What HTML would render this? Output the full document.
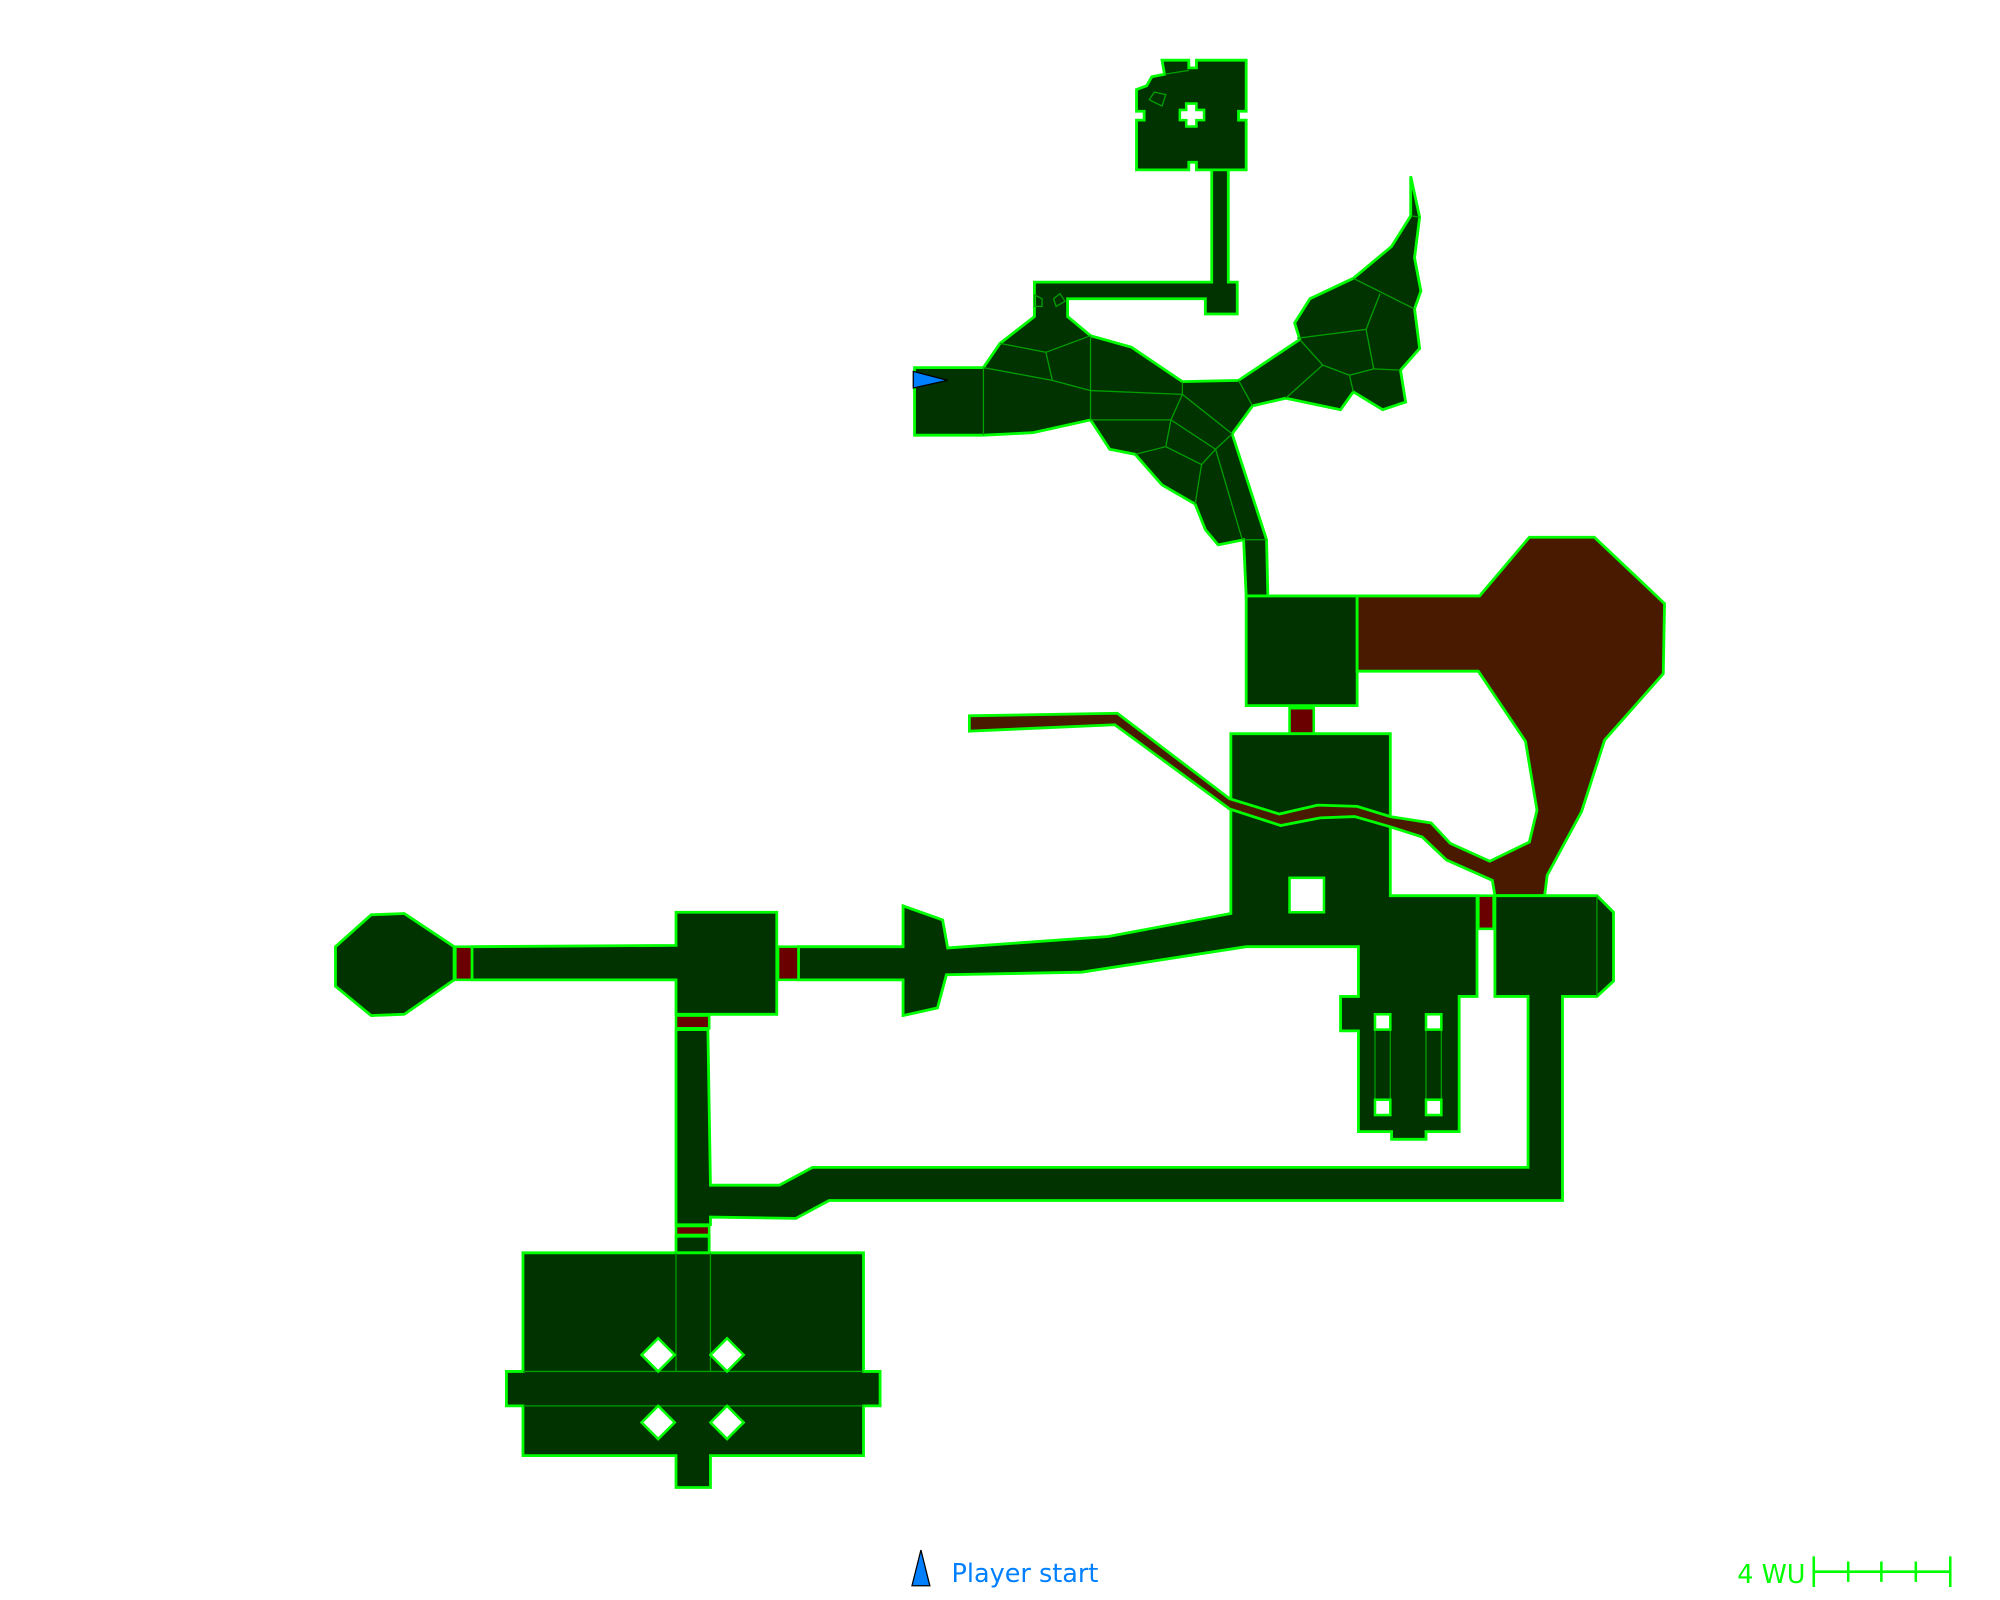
<!DOCTYPE html>
<html><head><meta charset="utf-8"><style>
html,body{margin:0;padding:0;background:#fff;width:2000px;height:1600px;overflow:hidden}
svg{display:block}
.r{fill:#003300;stroke:#00ff00;stroke-width:2.2;stroke-linejoin:miter}
.b{fill:#4a1a00;stroke:#00ff00;stroke-width:2.2}
.d{fill:#6b0000;stroke:#00ff00;stroke-width:2}
.h{fill:#fff;stroke:#00ff00;stroke-width:2}
.l{stroke:#00a000;stroke-width:1;fill:none}
</style></head><body>
<svg width="2000" height="1600" viewBox="0 0 1568 1254" xmlns="http://www.w3.org/2000/svg">
<polygon class="r" points="911,47 932,47 932,53 938,53 938,47 977,47 977,87 971,87 971,94 977,94 977,133 938,133 938,127 932,127 932,133 891,133 891,94 897,94 897,87 891,87 891,70 899,67 903,60 913,58"/>
<polygon class="h" points="930,81 938,81 938,86 944,86 944,94 938,94 938,99 930,99 930,94 925,94 925,86 930,86"/>
<polyline class="l" points="913,58 932,55"/>
<polygon class="l" points="901,78 905,72 914,74 911,83"/>
<polygon class="r" points="717,288 771,288 784,269 811,248 811,221 950,221 950,133 963,133 963,221 970,221 970,246 945,246 945,234 837,234 837,248 855,263 887,272 927,299 971,298 1019,266 1015,253 1027,234 1061,218 1091,193 1106,169 1106,138 1113,170 1109,202 1114,228 1109,242 1113,273 1098,290 1102,315 1084,321 1061,307 1051,321 1008,312 982,318 966,340 993,423 994,467 977,467 975,423 955,427 945,415 937,395 911,380 890,356 870,352 855,329 810,339 771,341 717,341"/>
<g class="l">
<line x1="771" y1="288" x2="771" y2="341"/><line x1="784" y1="269" x2="820" y2="276"/><line x1="820" y1="276" x2="855" y2="263"/><line x1="820" y1="276" x2="825" y2="298"/><polyline points="771,288 825,298 855,306 927,309"/><line x1="855" y1="263" x2="855" y2="329"/><line x1="927" y1="299" x2="927" y2="309"/><line x1="855" y1="329" x2="918" y2="329"/><line x1="927" y1="309" x2="918" y2="329"/><line x1="927" y1="309" x2="966" y2="340"/><line x1="918" y1="329" x2="914" y2="350"/><line x1="918" y1="329" x2="953" y2="352"/><line x1="914" y1="350" x2="890" y2="356"/><line x1="914" y1="350" x2="942" y2="364"/><line x1="953" y1="352" x2="966" y2="340"/><line x1="953" y1="352" x2="942" y2="364"/><line x1="942" y1="364" x2="937" y2="395"/><line x1="953" y1="352" x2="974" y2="423"/><line x1="975" y1="423" x2="993" y2="423"/><line x1="1019" y1="266" x2="1037" y2="286"/><line x1="1037" y1="286" x2="1008" y2="312"/><line x1="1037" y1="286" x2="1058" y2="294"/><line x1="1058" y1="294" x2="1061" y2="307"/><line x1="1058" y1="294" x2="1077" y2="289"/><line x1="1077" y1="289" x2="1098" y2="290"/><line x1="1077" y1="289" x2="1071" y2="258"/><line x1="1017" y1="265" x2="1071" y2="258"/><line x1="1071" y1="258" x2="1082" y2="230"/><line x1="1061" y1="218" x2="1109" y2="242"/><line x1="971" y1="298" x2="982" y2="318"/><line x1="1106" y1="169" x2="1113" y2="170"/>
<polygon points="811,231 817,234 817,240 811,240"/><polygon points="826,234 831,230 835,236 828,240"/>
</g>
<polygon class="r" points="977,467 1064,467 1064,553 977,553"/>
<rect class="d" x="1011" y="555" width="19" height="20"/>
<polygon class="r" points="965,575 1090,575 1090,702 1158,702 1158,781 1144,781 1144,887 1118,887 1118,893 1091,893 1091,887 1065,887 1065,808 1051,808 1051,781 1065,781 1065,742 977,742 848,762 742,764 735,790 708,796 708,768 626,768 626,742 708,742 708,710 739,721 743,743 869,734 965,716"/>
<rect class="h" x="1011" y="688" width="27" height="27"/>
<rect class="l" x="1078" y="807" width="12" height="55"/><rect class="l" x="1118" y="807" width="12" height="55"/>
<rect class="h" x="1078" y="795" width="12" height="12"/><rect class="h" x="1118" y="795" width="12" height="12"/>
<rect class="h" x="1078" y="862" width="12" height="12"/><rect class="h" x="1118" y="862" width="12" height="12"/>
<polygon class="b" points="1064,467 1160,467 1199,421 1250,421 1305,473 1304,528 1258,580 1240,636 1213,686 1211,702 1172,702 1170,690 1134,674 1115,656 1090,648 1062,640 1035,641 1004,647 964,634 874,568 760,573 760,561 876,559 964,626 1003,638 1033,631 1064,632 1090,640 1122,645 1137,661 1168,675 1199,660 1205,635 1196,581 1159,526 1064,526"/>
<rect class="d" x="1159" y="702" width="12" height="26"/>
<polygon class="r" points="1172,702 1252,702 1265,715 1265,769 1252,781 1225,781 1225,941 650,941 624,955 557,954 557,960 530,960 530,807 555,807 557,929 611,929 637,915 1198,915 1198,781 1172,781"/>
<line class="l" x1="1252" y1="702" x2="1252" y2="781"/>
<polygon class="r" points="370,742 530,741 530,715 609,715 609,795 530,795 530,768 370,768"/>
<rect class="d" x="610" y="742" width="16" height="26"/>
<rect class="d" x="357" y="742" width="13" height="26"/>
<polygon class="r" points="263,742 291,717 317,716 356,742 356,768 317,795 291,796 263,773"/>
<rect class="d" x="530" y="796" width="26" height="10"/>
<rect class="d" x="530" y="961" width="26" height="7"/>
<rect class="r" x="530" y="969" width="26" height="13"/>
<polygon class="r" points="410,982 677,982 677,1075 690,1075 690,1102 677,1102 677,1141 557,1141 557,1166 530,1166 530,1141 410,1141 410,1102 397,1102 397,1075 410,1075"/>
<g class="l"><line x1="530" y1="982" x2="530" y2="1075"/><line x1="557" y1="982" x2="557" y2="1075"/><line x1="410" y1="1075" x2="677" y2="1075"/><line x1="410" y1="1102" x2="677" y2="1102"/></g>
<polygon class="h" points="516,1049 529,1062 516,1075 503,1062"/>
<polygon class="h" points="570,1049 583,1062 570,1075 557,1062"/>
<polygon class="h" points="516,1102 529,1115 516,1128 503,1115"/>
<polygon class="h" points="570,1102 583,1115 570,1128 557,1115"/>
<polygon points="716,291 743,298 716,304" fill="#0080ff" stroke="#000" stroke-width="1"/>
<polygon points="722,1215 729,1243 715,1243" fill="#0080ff" stroke="#000" stroke-width="1"/>
<text x="746" y="1240" font-family="DejaVu Sans, sans-serif" font-size="20" fill="#0080ff">Player start</text>
<text x="1362" y="1241" font-family="DejaVu Sans, sans-serif" font-size="20" fill="#00ff00">4 WU</text>
<g stroke="#00ff00" stroke-width="2"><line x1="1422" y1="1232" x2="1529" y2="1232"/><line x1="1422" y1="1220" x2="1422" y2="1244"/><line x1="1529" y1="1220" x2="1529" y2="1244"/><line x1="1449" y1="1224" x2="1449" y2="1240"/><line x1="1475" y1="1224" x2="1475" y2="1240"/><line x1="1502" y1="1224" x2="1502" y2="1240"/></g>
</svg>
</body></html>
